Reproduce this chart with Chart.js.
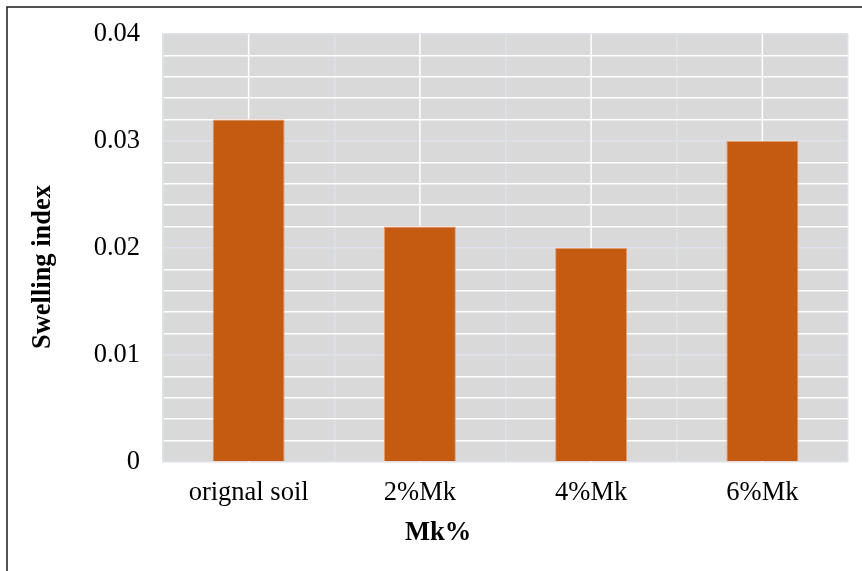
<!DOCTYPE html>
<html>
<head>
<meta charset="utf-8">
<script src="https://cdn.jsdelivr.net/npm/chart.js@4/dist/chart.umd.min.js"></script>
<style>
  html, body { margin: 0; padding: 0; background: #ffffff; }
  #wrap { width: 862px; height: 571px; position: relative; }
</style>
</head>
<body>
<div id="wrap"><canvas id="chart" width="862" height="571"></canvas></div>
<script>
// Swelling index for each Mk% mix
const categories = ['orignal soil', '2%Mk', '4%Mk', '6%Mk'];
const swellingIndex = [0.032, 0.022, 0.020, 0.030];
const yTickLabels = ['0', '0.01', '0.02', '0.03', '0.04'];

const xTitle = 'Mk%';
const yTitle = 'Swelling index';

const serif = '"Liberation Serif", "Times New Roman", serif';
const fontSize = 26.5;
const plotBg = '#d9d9d9';
const majorLine = '#dde2ea';
const minorLine = '#ffffff';

const isMajor = v => Math.abs(Math.round(v * 100) - v * 100) < 1e-6;

// Plot background, centre lines of each category, outer frame, axis titles
const decor = {
  id: 'decor',
  beforeDraw(chart) {
    const { ctx, chartArea: a } = chart;
    ctx.save();
    ctx.fillStyle = '#ffffff';
    ctx.fillRect(0, 0, chart.width, chart.height);
    ctx.fillStyle = plotBg;
    ctx.fillRect(a.left, a.top, a.right - a.left, a.bottom - a.top);
    ctx.restore();
  },
  beforeDatasetsDraw(chart) {
    const { ctx, chartArea: a, scales } = chart;
    ctx.save();
    ctx.strokeStyle = minorLine;
    ctx.lineWidth = 1.5;
    categories.forEach((c, i) => {
      const x = scales.x.getPixelForValue(i);
      ctx.beginPath();
      ctx.moveTo(x, a.top);
      ctx.lineTo(x, a.bottom);
      ctx.stroke();
    });
    ctx.restore();
  },
  afterDraw(chart) {
    const { ctx } = chart;
    ctx.save();
    // frame around the figure
    ctx.strokeStyle = '#1a1a1a';
    ctx.lineWidth = 1.5;
    ctx.beginPath();
    ctx.moveTo(7, chart.height);
    ctx.lineTo(7, 7);
    ctx.lineTo(chart.width, 7);
    ctx.stroke();
    // axis titles
    ctx.fillStyle = '#000000';
    ctx.font = 'bold ' + fontSize + 'px ' + serif;
    ctx.textAlign = 'center';
    ctx.textBaseline = 'middle';
    ctx.fillText(xTitle, 438, 533);
    ctx.translate(43, 267);
    ctx.rotate(-Math.PI / 2);
    ctx.fillText(yTitle, 0, 0);
    ctx.restore();
  }
};

new Chart(document.getElementById('chart'), {
  type: 'bar',
  data: {
    labels: categories,
    datasets: [{
      label: yTitle,
      data: swellingIndex,
      backgroundColor: '#c55a11',
      borderColor: '#e39a6c',
      borderWidth: 1,
      barPercentage: 0.42,
      categoryPercentage: 1.0
    }]
  },
  options: {
    responsive: false,
    animation: false,
    devicePixelRatio: 1,
    layout: { padding: { left: 0, right: 14, top: 34, bottom: 0 } },
    plugins: {
      legend: { display: false },
      tooltip: { enabled: false },
      title: { display: false }
    },
    scales: {
      x: {
        offset: true,
        grid: {
          offset: true,
          color: majorLine,
          lineWidth: 1.5,
          drawTicks: false
        },
        border: { display: false },
        ticks: {
          color: '#000000',
          font: { family: serif, size: fontSize },
          padding: 15,
          maxRotation: 0
        },
        afterFit(scale) {
          scale.height = 109;
          scale.paddingLeft = 0;
          scale.paddingRight = 0;
        }
      },
      y: {
        min: 0,
        max: 0.04,
        grid: {
          color: c => isMajor(c.tick.value) ? majorLine : minorLine,
          lineWidth: 1.5,
          drawTicks: false
        },
        border: { display: true, color: majorLine, width: 1.5 },
        ticks: {
          stepSize: 0.002,
          autoSkip: false,
          color: '#000000',
          font: { family: serif, size: fontSize },
          padding: 23,
          callback: v => isMajor(v) ? yTickLabels[Math.round(v * 100)] : ''
        },
        afterFit(scale) {
          scale.width = 163;
          scale.paddingTop = 0;
          scale.paddingBottom = 0;
        }
      }
    }
  },
  plugins: [decor]
});
</script>
</body>
</html>
